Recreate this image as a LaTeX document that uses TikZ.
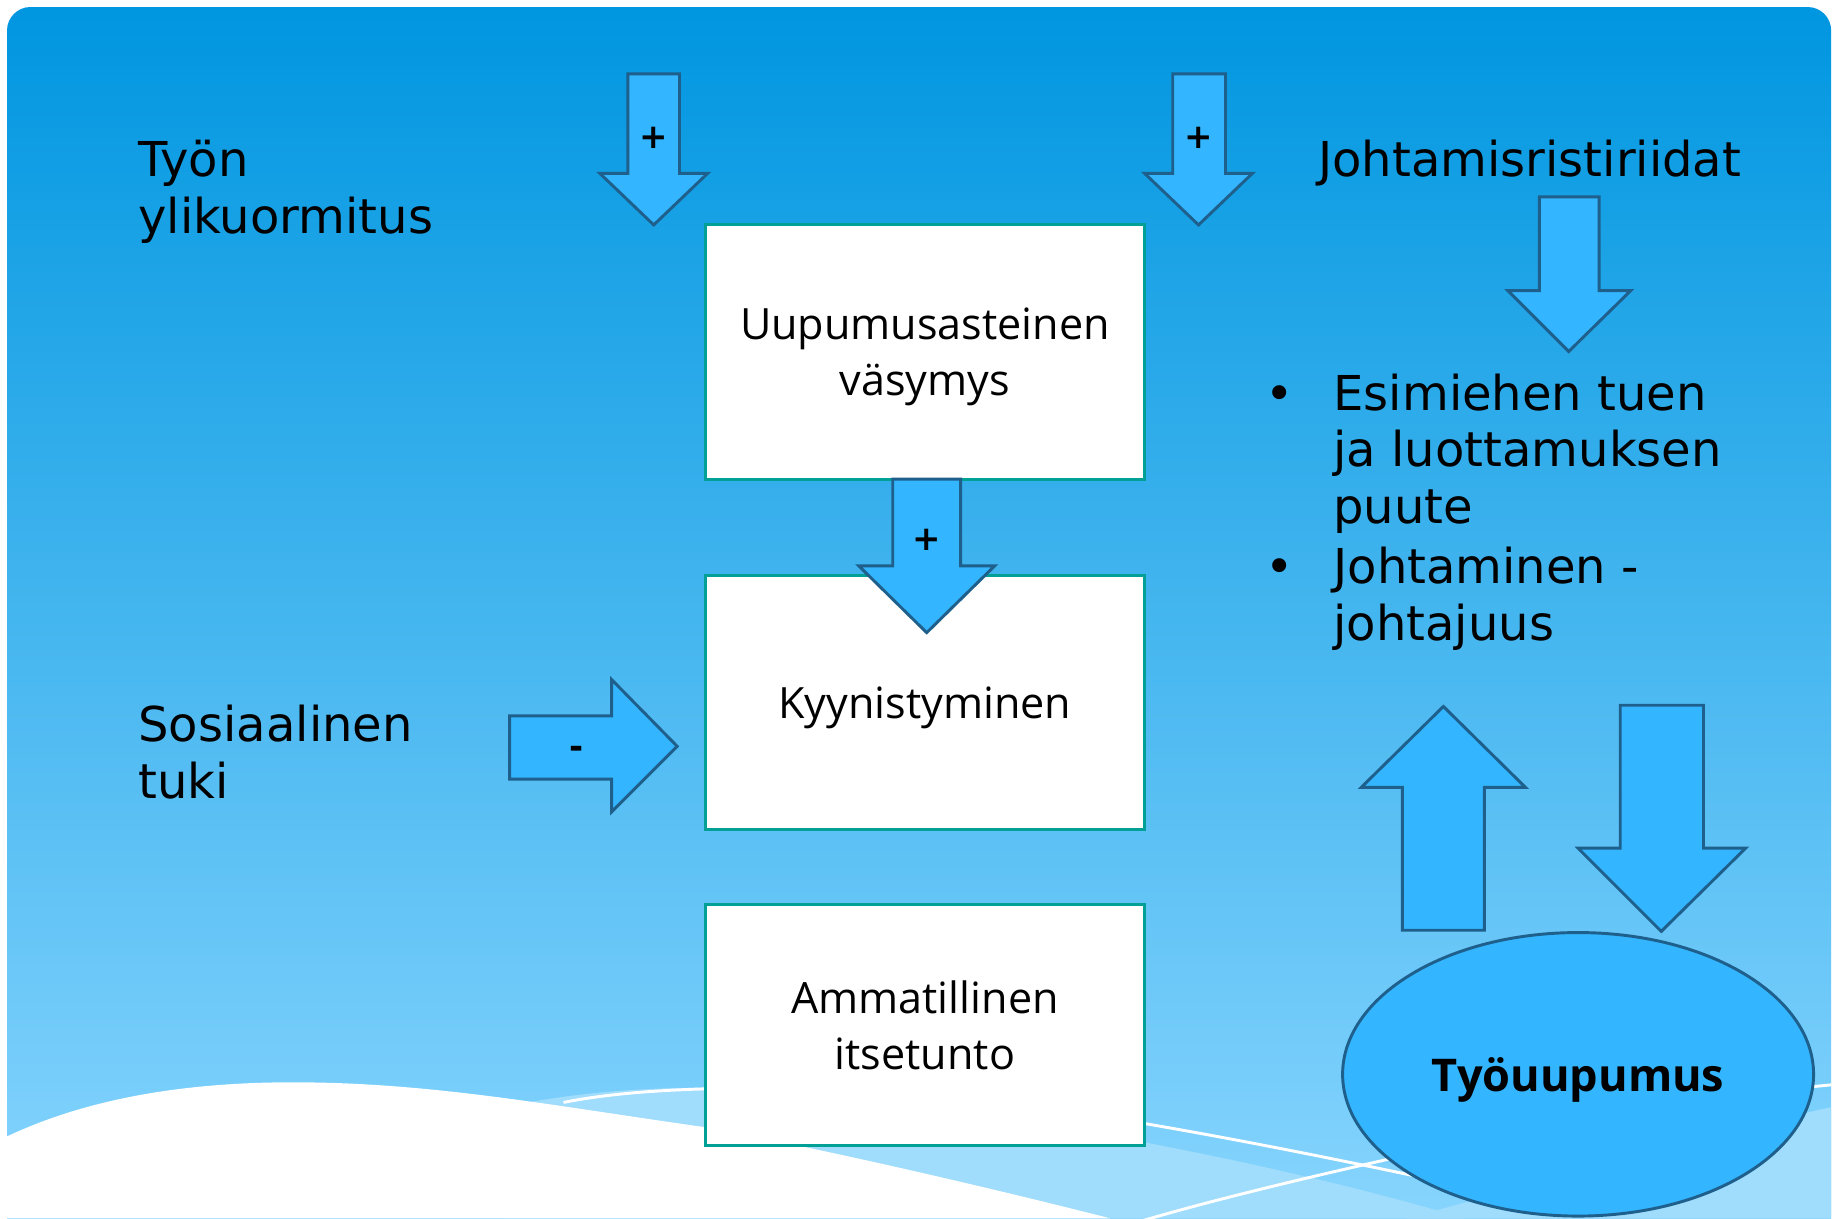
\documentclass[tikz,border=0pt]{standalone}
\usepackage{fontspec}
\setmainfont{DejaVu Sans}
\newfontfamily\boxfont{Open Sans}
\usetikzlibrary{shapes.geometric}
\definecolor{arrowfill}{RGB}{51,181,255}
\definecolor{arrowline}{RGB}{30,95,140}
\definecolor{boxline}{RGB}{0,160,150}
\definecolor{bgtop}{RGB}{0,150,224}
\definecolor{bgbot}{RGB}{140,215,255}
\definecolor{band}{RGB}{160,220,252}
\tikzset{
 blockarrow/.style={fill=arrowfill, draw=arrowline, line width=2.5pt, line join=miter},
 box/.style={draw=boxline, fill=white, line width=2.5pt, minimum width=375pt, minimum height=217pt, inner sep=0pt, text depth=0pt, align=center, font=\boxfont\fontsize{36.8}{48}\selectfont},
 bigtext/.style={font=\fontsize{41}{48.5}\selectfont, align=left, inner sep=0pt},
 sign/.style={font=\bfseries\fontsize{29}{29}\selectfont, inner sep=0pt},
 wline/.style={white, line width=2.5pt},
}
\begin{document}
\begin{tikzpicture}[x=1pt,y=-1pt]
\useasboundingbox (0,0) rectangle (1568,1040);
\fill[white] (0,0) rectangle (1568,1040);
% background
\shade[top color=bgtop, bottom color=bgbot, rounded corners=20pt] (6,6) rectangle (1563,1080);
\begin{scope}
\clip (6,6) rectangle (1563,1040);
% light bands
\fill[band] (430,945) .. controls (520,926) and (640,920) .. (800,945) .. controls (1000,975) and (1150,1010) .. (1250,1040) -- (430,1040) -- cycle;
\fill[band] (1200,1040) .. controls (1350,1000) and (1450,970) .. (1563,945) -- (1563,1040) -- cycle;
% white lines
\draw[wline] (481,941) .. controls (560,925) and (700,925) .. (850,940) .. controls (950,952) and (1100,980) .. (1260,1015);
\draw[wline] (975,1042) .. controls (1050,1020) and (1150,997) .. (1250,975);
\draw[wline] (1480,934) -- (1563,926);
% white wave
\fill[white] (6,970) .. controls (80,935) and (170,922) .. (270,924) .. controls (380,926) and (480,945) .. (601,962) .. controls (700,980) and (850,1015) .. (948,1040) -- (0,1040) -- cycle;
\end{scope}
% boxes
\node[box] (b1) at (789.5,300.5) {Uupumusasteinen\\väsymys};
\node[box] (b2) at (789.5,599.5) {Kyynistyminen};
\node[box, minimum height=206pt] (b3) at (789.5,875) {Ammatillinen\\itsetunto};
% texts
\node[bigtext, anchor=base west] (tyon) at (118,199.5) {Työn\\ylikuormitus};
\node[bigtext, anchor=base west] (johto) at (1125,151) {Johtamisristiriidat};
\node[bigtext, anchor=base west] (sos) at (118,681.5) {Sosiaalinen\\tuki};
\node[bigtext, anchor=base] (bul1) at (1092,350) {•};
\node[bigtext, anchor=base] (bul2) at (1092,498) {•};
\node[bigtext, anchor=base west] (item1) at (1138,447) {Esimiehen tuen\\ja luottamuksen\\puute};
\node[bigtext, anchor=base west] (item2) at (1138,546.5) {Johtaminen -\\johtajuus};
% block arrows
\draw[blockarrow] (536,63) -- (580,63) -- (580,148) -- (604,148) -- (558,192) -- (512,148) -- (536,148) -- cycle;
\draw[blockarrow] (1001,63) -- (1046,63) -- (1046,148) -- (1069,148) -- (1023,192) -- (977,148) -- (1001,148) -- cycle;
\draw[blockarrow] (1314,168) -- (1365,168) -- (1365,248) -- (1392,248) -- (1339,300) -- (1287,248) -- (1314,248) -- cycle;
\draw[blockarrow] (762,409) -- (820,409) -- (820,483) -- (849,483) -- (791,540) -- (733,483) -- (762,483) -- cycle;
\draw[blockarrow] (435,611) -- (522,611) -- (522,580) -- (578,637) -- (522,693) -- (522,665) -- (435,665) -- cycle;
\draw[blockarrow] (1197,794) -- (1197,672) -- (1162,672) -- (1232,603) -- (1302,672) -- (1267,672) -- (1267,794) -- cycle;
\draw[blockarrow] (1383,602) -- (1454,602) -- (1454,724) -- (1490,724) -- (1418,795) -- (1347,724) -- (1383,724) -- cycle;
\node[sign] (pA) at (558,118) {+};
\node[sign] (pB) at (1023,118) {+};
\node[sign] (pD) at (791,461) {+};
\node[sign] (mE) at (492,642) {-};
% ellipse
\node[ellipse, draw=arrowline, fill=arrowfill, line width=2.5pt, minimum width=402pt, minimum height=242pt, inner sep=0pt, text depth=0pt, font=\boxfont\bfseries\fontsize{38.5}{48}\selectfont] (tu) at (1347,917) {Työuupumus};
\end{tikzpicture}
\end{document}
